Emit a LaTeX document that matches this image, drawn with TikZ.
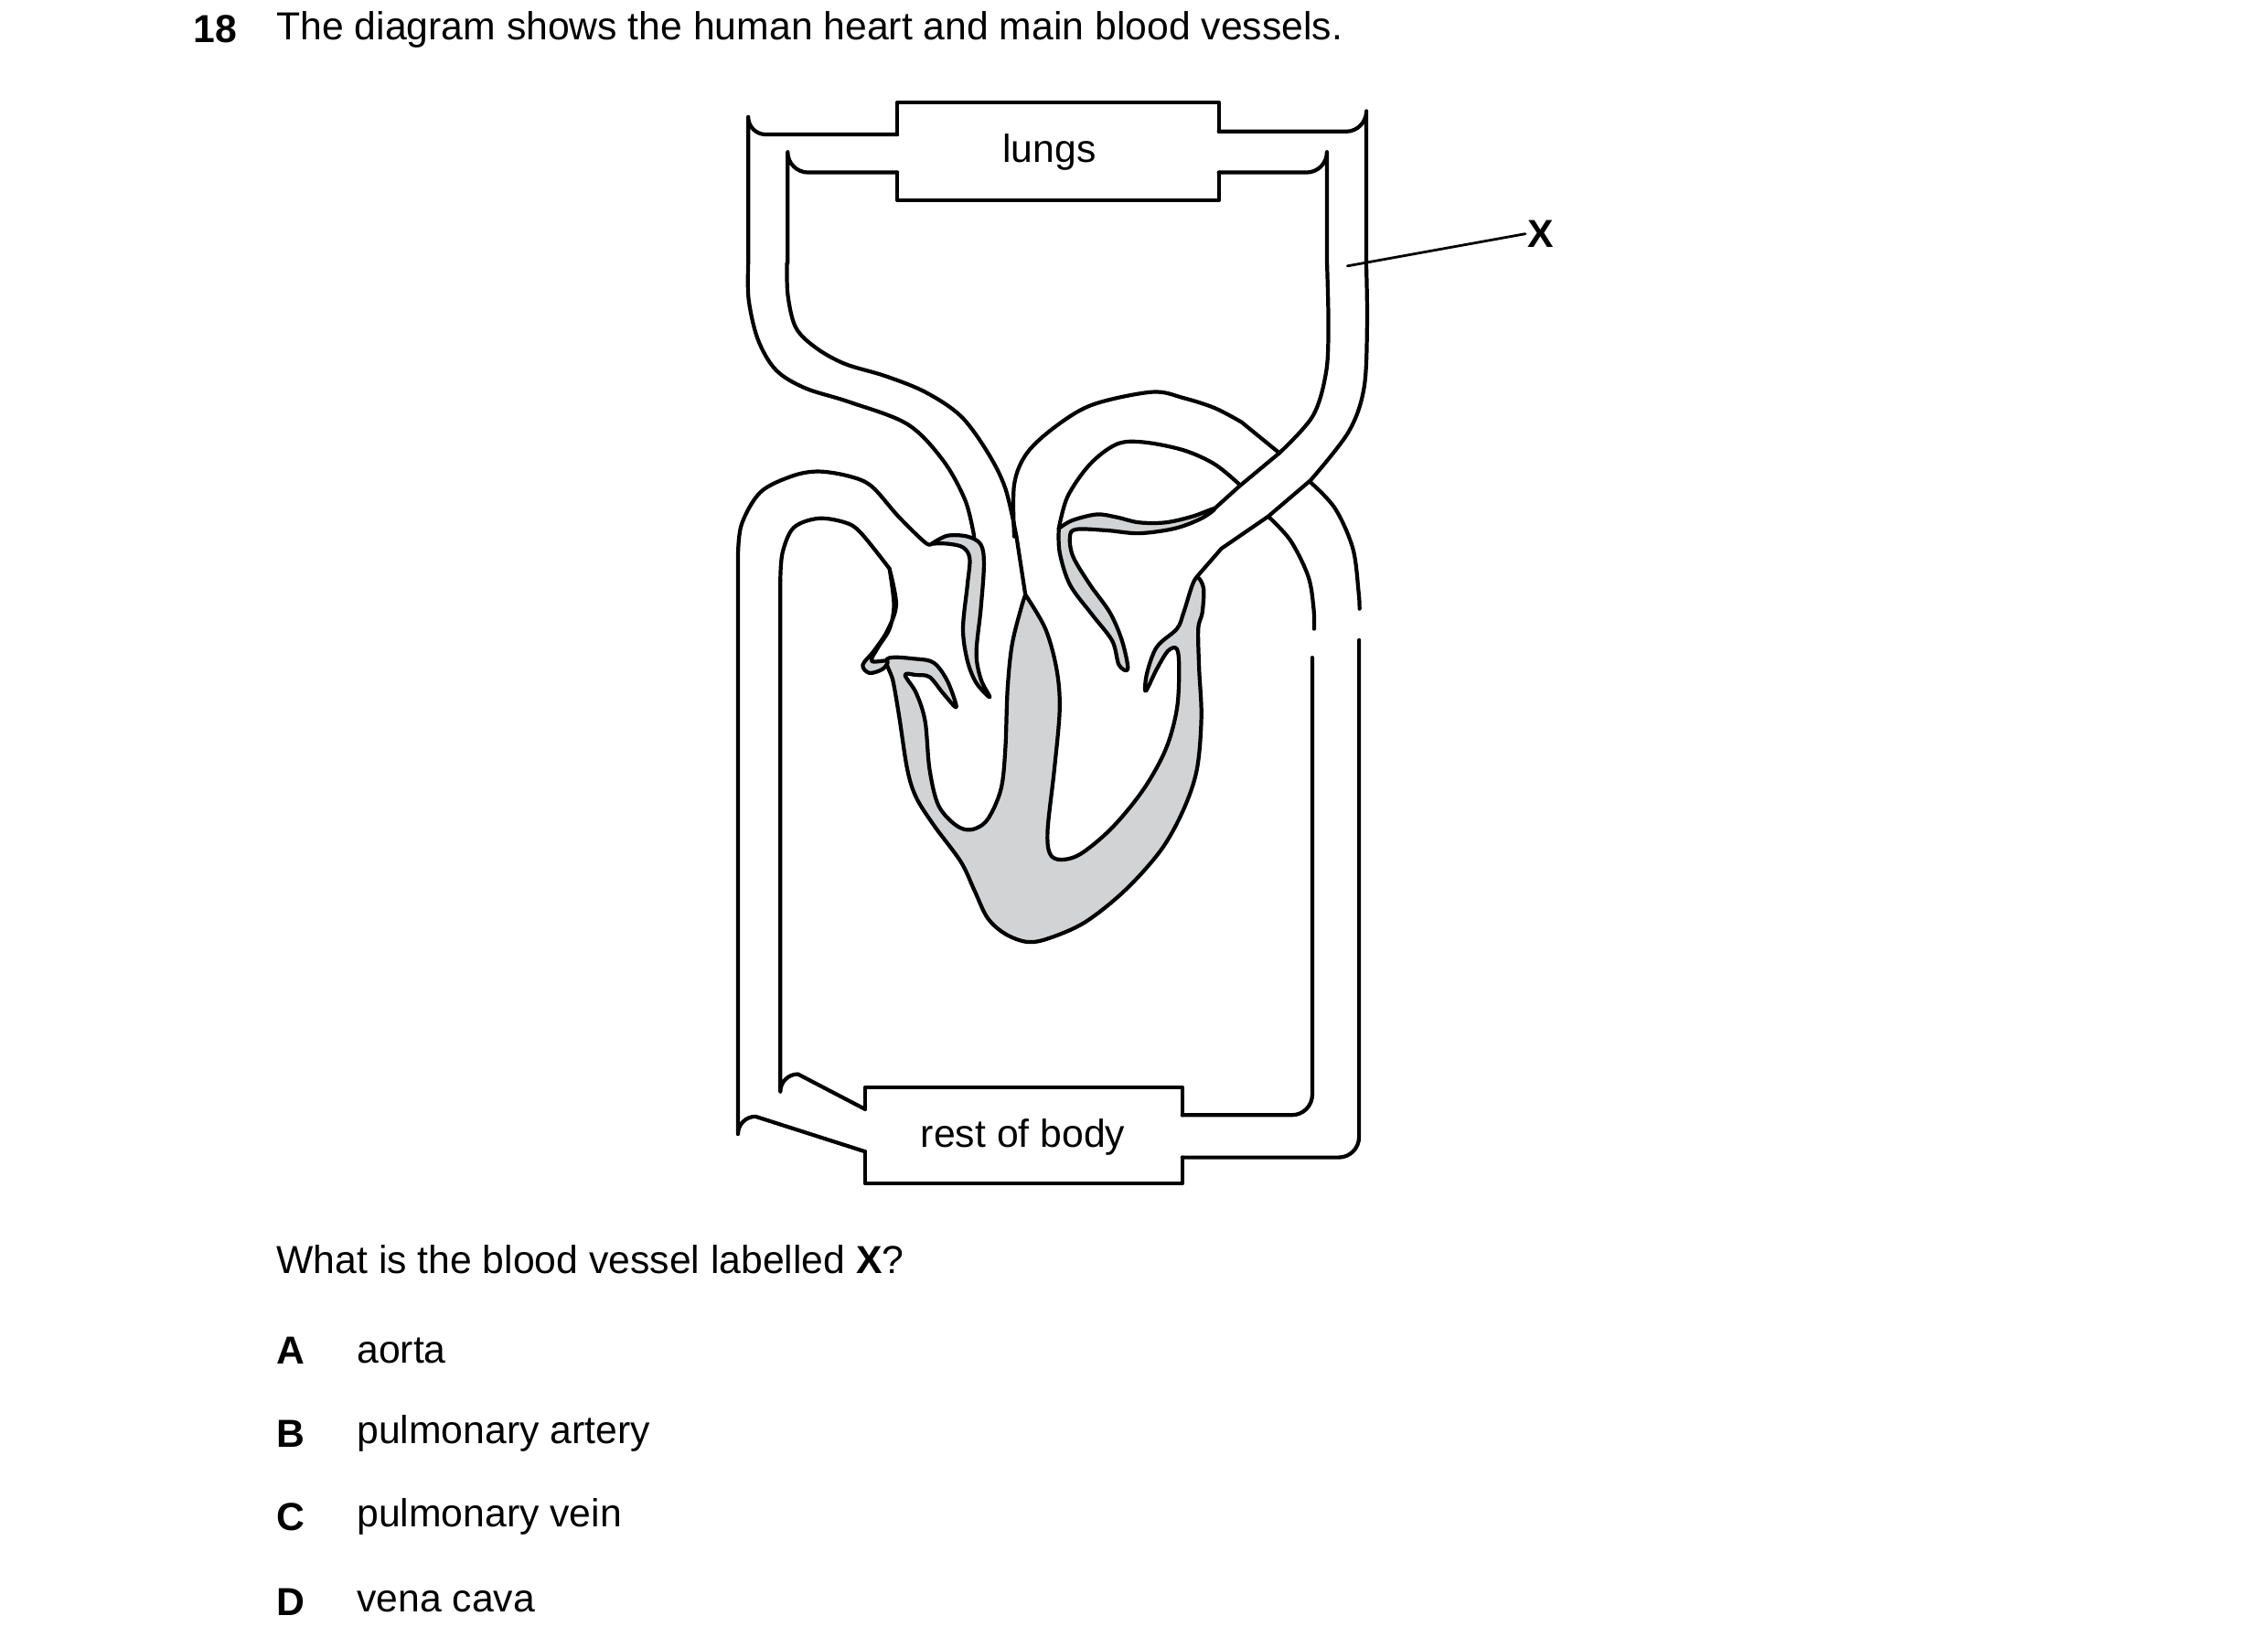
\documentclass[tikz,border=0pt]{standalone}
\usepackage{fontspec}
\setmainfont{Liberation Sans}
\begin{document}
\definecolor{hgray}{RGB}{209,211,212}
\begin{tikzpicture}[x=0.01cm,y=-0.01cm,line width=0.75pt,line join=round,line cap=round,
  txt/.style={inner sep=0pt,anchor=west,font=\fontsize{7.6}{9}\selectfont},
  lab/.style={inner sep=0pt,font=\fontsize{7.6}{9}\selectfont},
  gr/.style={fill=hgray,draw=black},
  sm/.style={smooth,tension=0.55}]
\useasboundingbox (0,0) rectangle (1552,1120);
% texts
\node[txt,font=\fontsize{7.6}{9}\selectfont\bfseries] (num) at (131,20) {18};
\node[txt] (title) at (188,20) {The diagram shows the human heart and main blood vessels.};
\node[txt] (q) at (188,862) {What is the blood vessel labelled \textbf{X}?};
\node[txt,font=\fontsize{7.6}{9}\selectfont\bfseries] (la) at (188,924) {A};
\node[txt] (ta) at (243,924) {aorta};
\node[txt,font=\fontsize{7.6}{9}\selectfont\bfseries] (lb) at (188,981) {B};
\node[txt] (tb) at (243,981) {pulmonary artery};
\node[txt,font=\fontsize{7.6}{9}\selectfont\bfseries] (lc) at (188,1038) {C};
\node[txt] (tc) at (243,1038) {pulmonary vein};
\node[txt,font=\fontsize{7.6}{9}\selectfont\bfseries] (ld) at (188,1096) {D};
\node[txt] (td) at (243,1096) {vena cava};
% boxes
\draw (614,92) -- (614,70) -- (834,70) -- (834,90);
\draw (614,118) -- (614,137) -- (834,137) -- (834,118);
\node[lab] (lungs) at (718,104) {lungs};
\draw (592,759) -- (592,744) -- (809,744) -- (809,763);
\draw (592,788) -- (592,810) -- (809,810) -- (809,792);
\node[lab] (body) at (700,778) {rest of body};
% X label
\node[lab,font=\fontsize{7.6}{9}\selectfont\bfseries] (X) at (1054,160) {X};
\coordinate (xp) at (922,182);
\draw[line width=0.5pt] (xp) -- (X.west);
% upper vessels straight parts
\draw (614,92) -- (524,92) arc[start angle=90,end angle=180,radius=12] -- (512,180);
\draw (614,118) -- (553,118) arc[start angle=90,end angle=180,radius=14] -- (539,180);
\draw (834,90) -- (921,90) arc[start angle=90,end angle=0,radius=14] -- (935,180);
\draw (834,118) -- (894,118) arc[start angle=90,end angle=0,radius=14] -- (908,180);
% lower vessels
\draw (505,381) -- (505,776) arc[start angle=180,end angle=270,radius=12] -- (592,788);
\draw (534,397) -- (534,747) arc[start angle=180,end angle=270,radius=12] -- (592,759);
\draw (898,450) -- (898,749) arc[start angle=0,end angle=90,radius=14] -- (809,763);
\draw (930,438) -- (930,778) arc[start angle=0,end angle=90,radius=14] -- (809,792);
\begin{scope}[shift={(505,238)},xscale=1/3.28,yscale=1/3.64]
 % pulmonary artery
 \draw plot[sm] coordinates {(23,-211)(24,-120)(45,-20)(85,55)(150,100)(250,135)(380,190)(460,280)(510,380)(530,470)};
 \draw plot[sm] coordinates {(110,-211)(112,-130)(130,-50)(175,0)(240,40)(330,70)(420,110)(500,170)(560,260)(600,350)(625,470)} -- (645,615);
 % aorta
 \draw plot[sm] coordinates {(620,470)(620,340)(650,260)(720,190)(800,140)(930,110)(1000,125)(1070,150)(1130,185)} -- (1215,262);
 \draw plot[sm] coordinates {(720,450)(740,370)(790,290)(850,240)(910,235)(1000,255)(1070,290)(1125,340)};
 % pulmonary vein (X)
 \draw plot[sm] coordinates {(1322,-211)(1325,-60)(1320,60)(1290,170)(1215,262)} -- (1125,345) -- (1070,400);
 \draw plot[sm] coordinates {(1410,-211)(1412,-60)(1405,100)(1370,210)(1285,330)} -- (1190,420) -- (1085,500) -- (1030,570);
 % right vena cava
 \draw plot[sm] coordinates {(1285,335)(1340,400)(1380,500)(1393,610)(1395,650)};
 \draw plot[sm] coordinates {(1190,420)(1240,480)(1280,570)(1292,650)(1293,700)};
 % left vena cava
 \draw plot[sm] coordinates {(0,520)(8,440)(50,360)(120,320)(180,308)(250,320)(300,345)(360,420)(420,485)(435,488)};
 \draw plot[sm] coordinates {(95,580)(100,510)(125,448)(180,425)(240,435)(275,460)(340,550)};
 % gray parts
 \draw[gr] plot[sm] coordinates {(645,615)(690,700)(715,800)(722,900)(710,1050)(695,1200)(700,1260)(725,1275)(770,1260)(840,1195)(910,1100)(960,1000)(985,900)(990,800)(985,750)(965,755)(940,800)(915,855)(918,810)(940,745)(985,700)(1000,660)(1020,590)(1032,572)(1045,600)(1042,660)(1033,700)(1035,800)(1040,920)(1030,1050)(1000,1150)(950,1250)(870,1350)(780,1430)(700,1470)(650,1480)(600,1460)(560,1420)(530,1350)(500,1280)(440,1190)(400,1120)(380,1050)(362,920)(348,830)(335,775)(400,775)(440,785)(470,830)(490,895)(460,860)(430,820)(400,815)(375,815)(400,860)(420,930)(430,1050)(450,1140)(490,1190)(525,1200)(560,1175)(590,1100)(600,1000)(605,850)(615,740)(635,650)(645,615)};
 \draw[gr] plot[sm] coordinates {(340,550)(355,640)(335,705)(305,755)(280,790)(295,810)(325,800)(335,780)(300,780)(315,745)(340,700)(350,640)(340,550)};
 \draw[gr] plot[sm] coordinates {(435,488)(470,468)(515,470)(545,490)(552,540)(545,650)(535,760)(545,825)(565,870)(535,835)(515,780)(505,700)(515,590)(520,525)(505,497)(470,488)(435,488)};
 \draw[gr] plot[sm] coordinates {(720,450)(750,430)(805,415)(850,422)(900,435)(960,435)(1020,420)(1070,400)(1040,425)(980,450)(900,462)(830,455)(760,452)(745,470)(752,520)(790,590)(835,660)(862,730)(875,800)(855,790)(840,730)(795,665)(745,590)(722,510)(720,450)};
\end{scope}
\end{tikzpicture}
\end{document}
